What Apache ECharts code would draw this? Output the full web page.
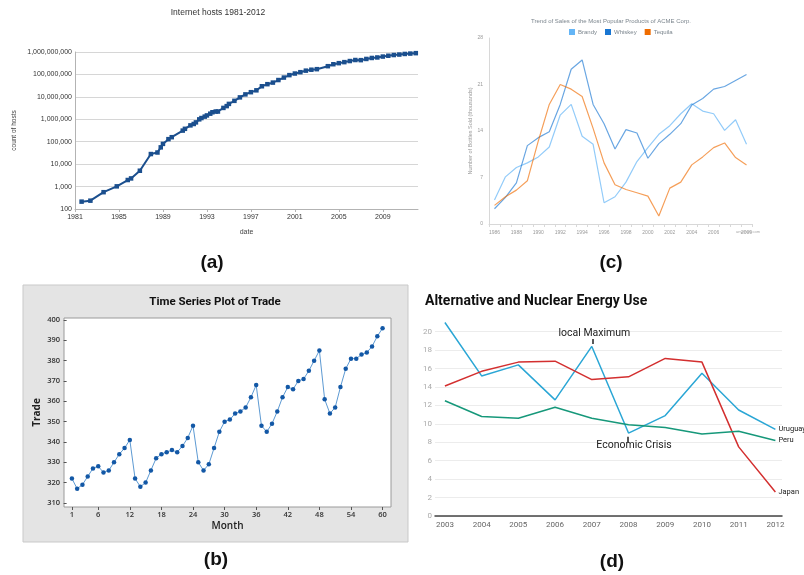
<!DOCTYPE html>
<html>
<head>
<meta charset="UTF-8">
<title>Four line charts</title>
<script src="https://cdn.jsdelivr.net/npm/echarts@6/dist/echarts.min.js"></script>
<style>
body{
margin:0;
background:#fff;
}
#chart{
width:804px;
height:575px;
}
</style>
</head>
<body>

<div id="chart"></div>

<script>

// (a) internet hosts
const hostDates = [1981.6,1982.4,1983.6,1984.8,1985.8,1986.1,1986.9,1987.9,1988.5,1988.8,1989.0,1989.5,1989.8,
 1990.8,1991.0,1991.5,1991.8,1992.0,1992.3,1992.5,1992.8,1993.0,1993.3,1993.5,1993.8,1994.0,1994.5,1994.8,
 1995.0,1995.5,1996.0,1996.5,1997.0,1997.5,1998.0,1998.5,1999.0,1999.5,2000.0,2000.5,2001.0,2001.5,2002.0,
 2002.5,2003.0,2004.0,2004.5,2005.0,2005.5,2006.0,2006.5,2007.0,2007.5,2008.0,2008.5,2009.0,2009.5,2010.0,
 2010.5,2011.0,2011.5,2012.0]
const hostCounts = [213,235,562,1024,1961,2308,5089,28174,33000,56000,80000,130000,159000,
 313000,376000,535000,617000,727000,992000,1136000,1313000,1486000,1776000,2056000,2217000,2217000,3212000,3864000,
 4852000,6642000,9472000,12881000,16146000,19540000,29670000,36739000,43230000,56218000,72398000,93047000,109574000,125888000,147344000,
 162128000,171638000,233101000,285139000,317646000,353284000,394991000,439286000,433193000,489774000,541677000,570937000,625226000,681064000,732740000,
 768913000,818374000,849869000,888239000]
const hostYearTicks = [1981,1985,1989,1993,1997,2001,2005,2009]

// (b) trade
const tradeValues = [322,317,319,323,327,328,325,326,330,334,337,341,
 322,318,320,326,332,334,335,336,335,338,342,348,
 330,326,329,337,345,350,351,354,355,357,362,368,
 348,345,349,355,362,367,366,370,371,375,380,385,
 361,354,357,367,376,381,381,383,384,387,392,396]
const monthTicks = [1,6,12,18,24,30,36,42,48,54,60]
const tradeTicks = [310,320,330,340,350,360,370,380,390,400]

// (c) ACME sales
const salesYears = ["1986","1987","1988","1989","1990","1991","1992","1993","1994","1995","1996","1997",
 "1998","1999","2000","2001","2002","2003","2004","2005","2006","2007","2008","2009"]
const brandy = [3.6,7.1,8.5,9.2,10.1,11.6,16.4,18.0,13.2,12.0,3.2,4.1,6.3,9.4,11.5,13.5,14.8,16.6,18.1,17.0,16.6,14.1,15.7,12.0]
const whiskey = [2.3,4.0,6.2,11.8,13.0,13.9,18.0,23.3,24.7,18.0,15.1,11.3,14.2,13.7,9.9,12.1,13.5,15.1,17.9,18.9,20.3,20.7,21.6,22.5]
const tequila = [2.8,4.1,5.1,6.5,12.5,18.0,21.0,20.3,19.2,14.4,9.2,5.9,5.2,4.7,4.2,1.2,5.4,6.3,8.9,10.1,11.5,12.2,10.0,8.9]

// (d) energy use
const energyYears = [2003,2004,2005,2006,2007,2008,2009,2010,2011,2012]
const uruguay = [21.0,15.2,16.4,12.6,18.4,9.0,10.9,15.5,11.5,9.4]
const japan = [14.1,15.7,16.7,16.8,14.8,15.1,17.1,16.7,7.5,2.6]
const peru = [12.5,10.8,10.6,11.8,10.6,9.9,9.6,8.9,9.2,8.2]

const pairs = (xs, ys) => ys.map((v,i) => [xs[i], v])

const chart = echarts.init(document.getElementById("chart"), null, {renderer:"canvas"})

const sans = "Liberation Sans"

chart.setOption({

 animation:false,

 graphic:[
  {
   type:"rect", z:-10,
   shape:{ x:23, y:285, width:385, height:257 },
   style:{ fill:"#e4e4e4", stroke:"#c9c9c9", lineWidth:1 }
  }
 ],

 title:[
  { text:"Internet hosts 1981-2012", left:218, top:8, padding:0, textAlign:"center",
    textStyle:{ fontFamily:sans, fontSize:8.5, fontWeight:"normal", color:"#333" } },
  { text:"Time Series Plot of Trade", left:215, top:296, padding:0, textAlign:"center",
    textStyle:{ fontFamily:"Roboto", fontSize:11.5, fontWeight:"bold", color:"#111" } },
  { text:"Trend of Sales of the Most Popular Products of ACME Corp.", left:611, top:18, padding:0, textAlign:"center",
    textStyle:{ fontFamily:sans, fontSize:6, fontWeight:"normal", color:"#7c868e" } },
  { text:"Alternative and Nuclear Energy Use", left:425, top:294, padding:0,
    textStyle:{ fontFamily:"Roboto", fontSize:14, fontWeight:"bold", color:"#111" } },
  { text:"(a)", left:212, top:253, padding:0, textAlign:"center",
    textStyle:{ fontFamily:sans, fontSize:19, fontWeight:"bold", color:"#111" } },
  { text:"(b)", left:216, top:550, padding:0, textAlign:"center",
    textStyle:{ fontFamily:sans, fontSize:19, fontWeight:"bold", color:"#111" } },
  { text:"(c)", left:611, top:253, padding:0, textAlign:"center",
    textStyle:{ fontFamily:sans, fontSize:19, fontWeight:"bold", color:"#111" } },
  { text:"(d)", left:612, top:552, padding:0, textAlign:"center",
    textStyle:{ fontFamily:sans, fontSize:19, fontWeight:"bold", color:"#111" } },
  { text:"anychart.com", left:748, top:230, padding:0, textAlign:"center",
    textStyle:{ fontFamily:sans, fontSize:4, fontWeight:"normal", color:"#aaa" } }
 ],

 legend:{
  left:569, top:29, padding:0,
  itemWidth:6, itemHeight:6, itemGap:8, icon:"rect",
  data:["Brandy","Whiskey","Tequila"],
  textStyle:{ fontFamily:sans, fontSize:6, color:"#7c868e", padding:[0,0,0,-2] }
 },

 grid:[
  { left:75, top:52, width:343, height:157 },
  { left:64, top:318, width:327, height:189, show:true, backgroundColor:"#fff", borderColor:"#9a9a9a", borderWidth:1 },
  { left:489, top:38, width:263, height:186 },
  { left:435, top:331.7, width:347, height:184.3 }
 ],

 xAxis:[
  {
   gridIndex:0, type:"value", min:0, max:31.2, interval:4,
   name:"date", nameLocation:"middle", nameGap:20,
   nameTextStyle:{ fontFamily:sans, fontSize:7, color:"#444" },
   axisLine:{ show:true, lineStyle:{ color:"#b3b3b3" } },
   axisTick:{ show:true, length:3, lineStyle:{ color:"#b3b3b3" } },
   axisLabel:{ fontFamily:sans, fontSize:7, color:"#333", margin:5, showMaxLabel:false,
     formatter:v => String(hostYearTicks[0] + v) },
   splitLine:{ show:false }
  },
  {
   gridIndex:1, type:"value", min:-0.5, max:61.6,
   name:"Month", nameLocation:"middle", nameGap:14,
   nameTextStyle:{ fontFamily:"Open Sans", fontSize:10, fontWeight:600, color:"#222", verticalAlign:"top" },
   axisLine:{ show:false },
   axisTick:{ show:true, length:3, customValues:monthTicks, lineStyle:{ color:"#555" } },
   axisLabel:{ fontFamily:"Open Sans", fontSize:7.5, fontWeight:600, color:"#333", margin:4, customValues:monthTicks },
   splitLine:{ show:false }
  },
  {
   gridIndex:2, type:"category", data:salesYears, boundaryGap:true,
   axisLine:{ show:true, lineStyle:{ color:"#d8d8d8" } },
   axisTick:{ show:true, interval:0, length:3, lineStyle:{ color:"#d8d8d8" } },
   axisLabel:{ fontFamily:sans, fontSize:5, color:"#9a9a9a", margin:6,
     interval:(i) => (i % 2 === 0 && i < 22) || i === salesYears.length - 1 },
   splitLine:{ show:false }
  },
  {
   gridIndex:3, type:"value", min:2002.73, max:2012.18,
   axisLine:{ show:true, lineStyle:{ color:"#444", width:1.5 } },
   axisTick:{ show:false },
   axisLabel:{ fontFamily:"Roboto", fontSize:8, color:"#666", margin:5, customValues:energyYears,
     formatter:v => String(v) },
   splitLine:{ show:false }
  }
 ],

 yAxis:[
  {
   gridIndex:0, type:"log", logBase:10, min:100, max:1000000000,
   name:"count of hosts", nameLocation:"middle", nameGap:57,
   nameTextStyle:{ fontFamily:sans, fontSize:6.5, color:"#444" },
   axisLine:{ show:true, lineStyle:{ color:"#b3b3b3" } },
   axisTick:{ show:false },
   axisLabel:{ fontFamily:sans, fontSize:7, color:"#333", margin:3,
     formatter:v => Math.round(v).toLocaleString("en-US") },
   splitLine:{ show:true, lineStyle:{ color:"#d6d6d6" } }
  },
  {
   gridIndex:1, type:"value", min:308, max:401,
   name:"Trade", nameLocation:"middle", nameGap:22,
   nameTextStyle:{ fontFamily:"Open Sans", fontSize:10, fontWeight:"bold", color:"#222" },
   axisLine:{ show:false },
   axisTick:{ show:true, length:3, customValues:tradeTicks, lineStyle:{ color:"#555" } },
   axisLabel:{ fontFamily:"Open Sans", fontSize:7.5, fontWeight:600, color:"#333", margin:4, customValues:tradeTicks },
   splitLine:{ show:false }
  },
  {
   gridIndex:2, type:"value", min:0, max:28, interval:7,
   name:"Number of Bottles Sold (thousands)", nameLocation:"middle", nameGap:14,
   nameTextStyle:{ fontFamily:sans, fontSize:5.5, color:"#9a9a9a" },
   axisLine:{ show:true, lineStyle:{ color:"#d8d8d8" } },
   axisTick:{ show:false },
   axisLabel:{ fontFamily:sans, fontSize:5, color:"#9a9a9a", margin:6 },
   splitLine:{ show:false }
  },
  {
   gridIndex:3, type:"value", min:0, max:20, interval:2,
   axisLine:{ show:false },
   axisTick:{ show:false },
   axisLabel:{ fontFamily:"Roboto", fontSize:8, color:"#aaa", margin:3 },
   splitLine:{ show:true, lineStyle:{ color:"#ececec" } }
  }
 ],

 series:[
  {
   name:"hosts", type:"line", xAxisIndex:0, yAxisIndex:0,
   data:hostDates.map((d,i) => [d - hostYearTicks[0], hostCounts[i]]),
   symbol:"rect", symbolSize:4.5, showAllSymbol:true,
   lineStyle:{ color:"#1b4f8e", width:2 },
   itemStyle:{ color:"#1b4f8e" }
  },
  {
   name:"Trade", type:"line", xAxisIndex:1, yAxisIndex:1,
   data:tradeValues.map((v,i) => [i + 1, v]),
   symbol:"circle", symbolSize:4.5, showAllSymbol:true,
   lineStyle:{ color:"#5d9ad3", width:1 },
   itemStyle:{ color:"#1358a6" }
  },
  {
   name:"Brandy", type:"line", xAxisIndex:2, yAxisIndex:2, data:brandy,
   showSymbol:false, color:"#64b5f6",
   lineStyle:{ color:"#64b5f6", width:1.2, opacity:0.7 }
  },
  {
   name:"Whiskey", type:"line", xAxisIndex:2, yAxisIndex:2, data:whiskey,
   showSymbol:false, color:"#1976d2",
   lineStyle:{ color:"#1976d2", width:1.2, opacity:0.65 }
  },
  {
   name:"Tequila", type:"line", xAxisIndex:2, yAxisIndex:2, data:tequila,
   showSymbol:false, color:"#ef6c00",
   lineStyle:{ color:"#ef6c00", width:1.2, opacity:0.65 }
  },
  {
   name:"Uruguay", type:"line", xAxisIndex:3, yAxisIndex:3, data:pairs(energyYears, uruguay),
   showSymbol:false, clip:false,
   lineStyle:{ color:"#2aa6d5", width:1.5 },
   endLabel:{ show:true, formatter:"{a}", fontFamily:"Roboto", fontSize:7.5, color:"#222", distance:3 },
   markLine:{
    silent:true, symbol:["none","none"], label:{ show:false },
    lineStyle:{ color:"#222", width:1.5, type:"solid" },
    data:[
     [{ coord:[2007.02,18.66] }, { coord:[2007.02,19.2] }],
     [{ coord:[2007.97,7.95] }, { coord:[2007.97,8.6] }]
    ]
   },
   markPoint:{
    silent:true, symbol:"circle", symbolSize:1,
    itemStyle:{ color:"rgba(0,0,0,0)" },
    label:{ show:true, position:"inside", fontFamily:"Roboto", fontSize:10.5, color:"#222" },
    data:[
     { coord:[2007.07,19.85], label:{ formatter:"local Maximum" } },
     { coord:[2008.15,7.7], label:{ formatter:"Economic Crisis" } }
    ]
   }
  },
  {
   name:"Japan", type:"line", xAxisIndex:3, yAxisIndex:3, data:pairs(energyYears, japan),
   showSymbol:false, clip:false,
   lineStyle:{ color:"#d32f2f", width:1.5 },
   endLabel:{ show:true, formatter:"{a}", fontFamily:"Roboto", fontSize:7.5, color:"#222", distance:3 }
  },
  {
   name:"Peru", type:"line", xAxisIndex:3, yAxisIndex:3, data:pairs(energyYears, peru),
   showSymbol:false, clip:false,
   lineStyle:{ color:"#16987a", width:1.5 },
   endLabel:{ show:true, formatter:"{a}", fontFamily:"Roboto", fontSize:7.5, color:"#222", distance:3 }
  }
 ]

})

</script>

</body>
</html>
